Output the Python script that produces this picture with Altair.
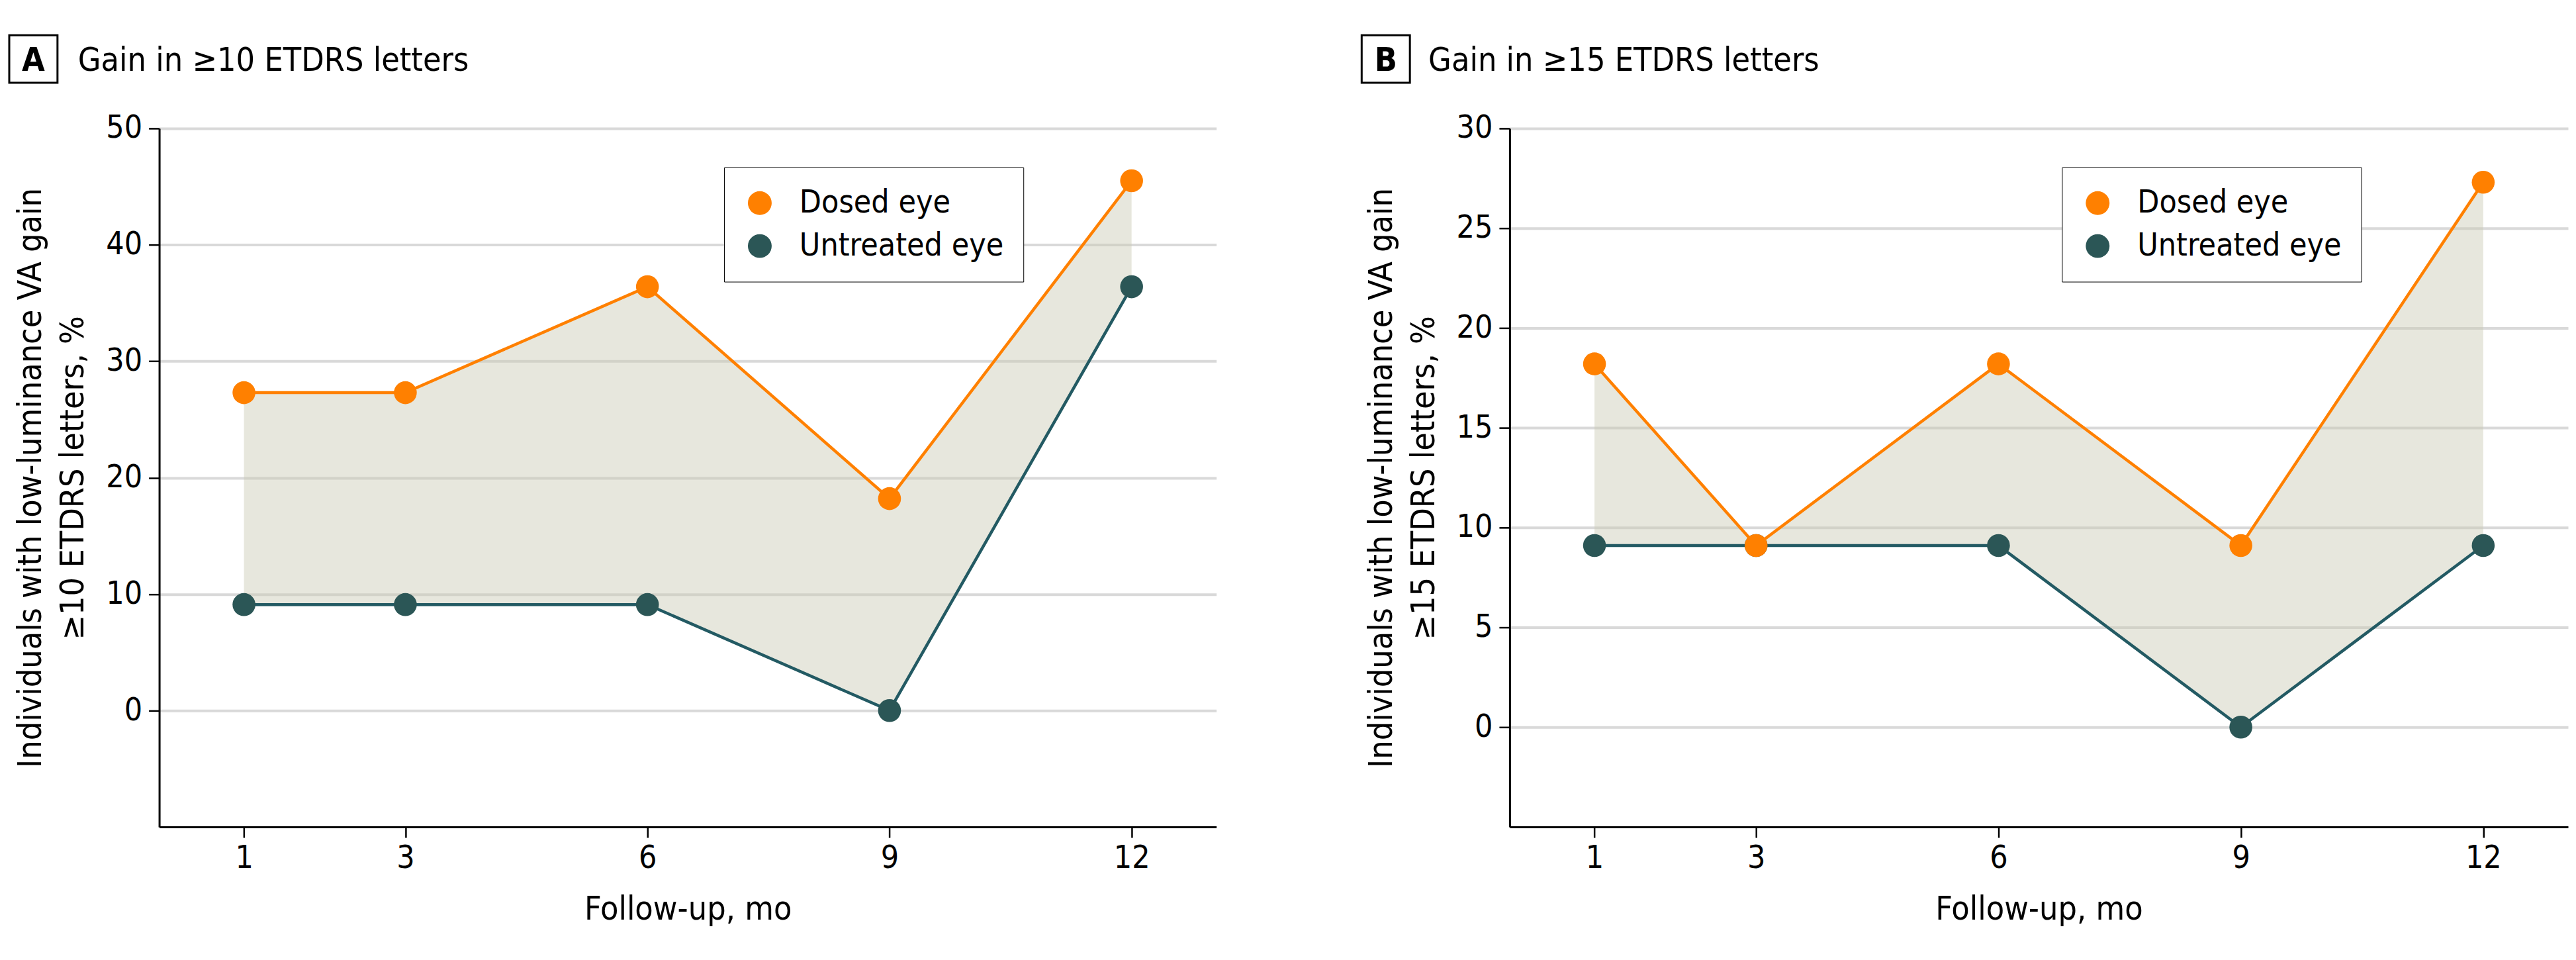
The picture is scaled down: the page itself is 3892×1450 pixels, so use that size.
import altair as alt
import pandas as pd

months = [1, 3, 6, 9, 12]
series_names = ["Dosed eye", "Untreated eye"]

a_dosed = [27.3, 27.3, 36.4, 18.2, 45.5]
a_untreated = [9.1, 9.1, 9.1, 0.0, 36.4]
b_dosed = [18.2, 9.1, 18.2, 9.1, 27.3]
b_untreated = [9.1, 9.1, 9.1, 0.0, 9.1]

a_yticks = [0, 10, 20, 30, 40, 50]
b_yticks = [0, 5, 10, 15, 20, 25, 30]

FONT = "Liberation Sans Narrow, DejaVu Sans Condensed, sans-serif"
ORANGE = "#ff8000"
TEAL_PT = "#2b5656"
TEAL_LINE = "#235a63"
FILL = "#c9c9b3"


def panel(letter, title, dosed, untreated, ydomain, yticks, ytitle,
          legend_x, box_x, width):
    wide = pd.DataFrame({"month": months, "dosed": dosed, "untreated": untreated})
    long = pd.DataFrame({
        "month": months + months,
        "value": untreated + dosed,
        "series": [series_names[1]] * 5 + [series_names[0]] * 5,
    })

    xaxis = alt.Axis(values=months, title="Follow-up, mo", grid=False,
                     labelPadding=8, titlePadding=28)
    yaxis = alt.Axis(values=yticks, title=ytitle, grid=True,
                     labelPadding=10, titlePadding=24, titleLineHeight=64)
    xs = alt.Scale(domain=[-0.05, 13.05], nice=False, zero=False)
    ys = alt.Scale(domain=ydomain, nice=False, zero=False)

    def X():
        return alt.X("month:Q", scale=xs, axis=xaxis)

    area = alt.Chart(wide).mark_area(color=FILL, opacity=0.45).encode(
        x=X(),
        y=alt.Y("untreated:Q", scale=ys, axis=yaxis),
        y2="dosed:Q",
    )
    line_u = alt.Chart(long).transform_filter(
        alt.datum.series == series_names[1]
    ).mark_line(color=TEAL_LINE, strokeWidth=4.5).encode(
        x=X(), y=alt.Y("value:Q", scale=ys, axis=yaxis)
    )
    pts = alt.Chart(long).mark_circle(size=1200, opacity=1).encode(
        x=X(),
        y=alt.Y("value:Q", scale=ys, axis=yaxis),
        color=alt.Color(
            "series:N",
            scale=alt.Scale(domain=series_names, range=[ORANGE, TEAL_PT]),
            legend=alt.Legend(
                orient="none", legendX=legend_x, legendY=59, title=None,
                symbolType="circle", symbolSize=1296, symbolStrokeWidth=0,
                symbolOpacity=1,
                labelFontSize=48, labelFont=FONT, labelColor="black",
                labelLimit=0,
                labelOffset=36, rowPadding=17, padding=30,
                strokeColor="black", fillColor="white",
            ),
        ),
    )
    line_d = alt.Chart(long).transform_filter(
        alt.datum.series == series_names[0]
    ).mark_line(color=ORANGE, strokeWidth=4.5).encode(
        x=X(), y=alt.Y("value:Q", scale=ys, axis=yaxis)
    )

    dec = pd.DataFrame({"k": [0]})
    box = alt.Chart(dec).mark_rect(filled=False, stroke="black", strokeWidth=3).encode(
        x=alt.value(box_x), x2=alt.value(box_x + 73),
        y=alt.value(-141), y2=alt.value(-69),
    )
    let = alt.Chart(dec).mark_text(
        font=FONT, fontSize=50, fontWeight="bold", align="center",
        baseline="alphabetic", color="black",
    ).encode(x=alt.value(box_x + 36.5), y=alt.value(-87), text=alt.value(letter))
    ttl = alt.Chart(dec).mark_text(
        font=FONT, fontSize=50, align="left", baseline="alphabetic", color="black",
    ).encode(x=alt.value(-123), y=alt.value(-87), text=alt.value(title))

    return alt.layer(area, line_u, pts, line_d, box, let, ttl).properties(
        width=width, height=1057
    )


pa = panel("A", "Gain in \u226510 ETDRS letters", a_dosed, a_untreated,
           [-10, 50], a_yticks,
           ["Individuals with low-luminance VA gain", "\u226510 ETDRS letters, %"],
           855, -227, 1600)
pb = panel("B", "Gain in \u226515 ETDRS letters", b_dosed, b_untreated,
           [-5, 30], b_yticks,
           ["Individuals with low-luminance VA gain", "\u226515 ETDRS letters, %"],
           836, -224, 1602)

chart = alt.hconcat(pa, pb, spacing=218).resolve_scale(
    color="independent", x="independent", y="independent"
).resolve_legend(color="independent").properties(
    padding={"left": 4, "top": 42, "right": 4, "bottom": 12},
    background="white",
).configure_view(stroke=None).configure_axis(
    domainColor="black", domainWidth=3, tickColor="black", tickWidth=2.5,
    tickSize=16, gridColor="#d9d9d9", gridWidth=4,
    labelFont=FONT, titleFont=FONT, labelFontSize=48, titleFontSize=50,
    labelColor="black", titleColor="black", titleFontWeight="normal",
)

chart.save("out.html", embed_options={"renderer": "svg", "actions": False})
